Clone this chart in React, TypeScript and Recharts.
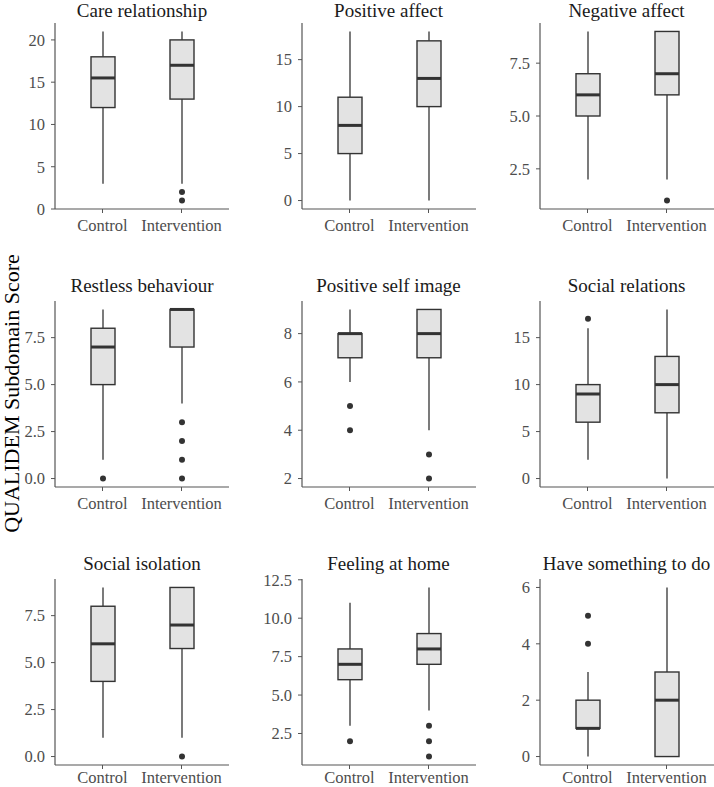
import React from "react";
import { BarChart, Bar, XAxis, YAxis } from "recharts";

const titles = [
  "Care relationship",
  "Positive affect",
  "Negative affect",
  "Restless behaviour",
  "Positive self image",
  "Social relations",
  "Social isolation",
  "Feeling at home",
  "Have something to do",
];

const groups = ["Control", "Intervention"];

// five-number summaries: [lower whisker, Q1, median, Q3, upper whisker]
const controlStats = [
  [3, 12, 15.5, 18, 21],
  [0, 5, 8, 11, 18],
  [2, 5, 6, 7, 9],
  [1, 5, 7, 8, 9],
  [6, 7, 8, 8, 9],
  [2, 6, 9, 10, 16],
  [1, 4, 6, 8, 9],
  [3, 6, 7, 8, 11],
  [0, 1, 1, 2, 3],
];

const interventionStats = [
  [3, 13, 17, 20, 21],
  [0, 10, 13, 17, 18],
  [2, 6, 7, 9, 9],
  [4, 7, 9, 9, 9],
  [4, 7, 8, 9, 9],
  [0, 7, 10, 13, 18],
  [1, 5.75, 7, 9, 9],
  [4, 7, 8, 9, 12],
  [0, 0, 2, 3, 6],
];

const controlOutliers = [[], [], [], [0], [4, 5], [17], [], [2], [4, 5]];
const interventionOutliers = [[1, 2], [], [1], [0, 1, 2, 3], [2, 3], [], [0], [1, 2, 3], []];

const yTickLabels = [
  ["0", "5", "10", "15", "20"],
  ["0", "5", "10", "15"],
  ["2.5", "5.0", "7.5"],
  ["0.0", "2.5", "5.0", "7.5"],
  ["2", "4", "6", "8"],
  ["0", "5", "10", "15"],
  ["0.0", "2.5", "5.0", "7.5"],
  ["2.5", "5.0", "7.5", "10.0", "12.5"],
  ["0", "2", "4", "6"],
];

const yAxisLabel = "QUALIDEM Subdomain Score";

// layout
const colAxisX = [55, 301.5, 539.5];
const rowTop = [23.3, 301.2, 579];
const titleGap = [6.5, 9.5, 9.5];
const PLOT_W = 174;
const PLOT_H = 186;
const Y_AXIS_W = 50;
const TOP_M = 10;
const X_AXIS_H = 34;

const FONT = "'Liberation Serif', 'Times New Roman', serif";
const BOX_FILL = "#e3e3e3";
const DARK = "#333333";
const AXIS = "#555555";
const TICK_TEXT = "#4d4d4d";

const BoxShape = (props: any) => {
  const { x, y, width, height, payload } = props;
  const [mn, q1, md, q3, mx] = payload.stats as number[];
  const top = Math.min(y, y + height);
  const h = Math.abs(height);
  const per = h / (mx - mn);
  const toY = (v: number) => top + (mx - v) * per;
  const cx = x + width / 2;
  return (
    <g>
      <line x1={cx} x2={cx} y1={toY(mx)} y2={toY(q3)} stroke={DARK} strokeWidth={1.3} />
      <line x1={cx} x2={cx} y1={toY(q1)} y2={toY(mn)} stroke={DARK} strokeWidth={1.3} />
      <rect
        x={x}
        y={toY(q3)}
        width={width}
        height={toY(q1) - toY(q3)}
        fill={BOX_FILL}
        stroke={DARK}
        strokeWidth={1.4}
      />
      <line x1={x} x2={x + width} y1={toY(md)} y2={toY(md)} stroke={DARK} strokeWidth={3} />
      {(payload.outliers as number[]).map((o, i) => (
        <circle key={i} cx={cx} cy={toY(o)} r={3} fill={DARK} />
      ))}
    </g>
  );
};

const Panel = ({ idx }: { idx: number }) => {
  const row = Math.floor(idx / 3);
  const col = idx % 3;
  const data = [
    { group: groups[0], stats: controlStats[idx], outliers: controlOutliers[idx] },
    { group: groups[1], stats: interventionStats[idx], outliers: interventionOutliers[idx] },
  ];
  const allVals = [
    ...controlStats[idx],
    ...interventionStats[idx],
    ...controlOutliers[idx],
    ...interventionOutliers[idx],
  ];
  const lo = Math.min(...allVals);
  const hi = Math.max(...allVals);
  const pad = (hi - lo) * 0.05;
  const labels = yTickLabels[idx];
  const ticks = labels.map((t) => parseFloat(t));
  const fmt = (v: number) => {
    const i = ticks.indexOf(v);
    return i >= 0 ? labels[i] : String(v);
  };
  const left = colAxisX[col] - Y_AXIS_W;
  const top = rowTop[row] - TOP_M;
  const width = Y_AXIS_W + PLOT_W;
  const height = TOP_M + PLOT_H + X_AXIS_H;
  const xTickMargin = row === 2 ? 2.5 : 6;
  return (
    <div style={{ position: "absolute", left, top, width, height }}>
      <BarChart
        width={width}
        height={height}
        data={data}
        margin={{ top: TOP_M, right: 0, bottom: 0, left: 0 }}
      >
        <XAxis
          dataKey="group"
          padding={{ left: 8, right: 8 }}
          height={X_AXIS_H}
          tickSize={4}
          tickMargin={xTickMargin}
          axisLine={{ stroke: AXIS, strokeWidth: 1.2 }}
          tickLine={{ stroke: AXIS }}
          tick={{ fontSize: 16.5, fill: TICK_TEXT, fontFamily: FONT }}
          interval={0}
        />
        <YAxis
          type="number"
          width={Y_AXIS_W}
          domain={[lo - pad, hi + pad]}
          allowDataOverflow
          ticks={ticks}
          tickFormatter={fmt}
          tickSize={4}
          tickMargin={6}
          axisLine={{ stroke: AXIS, strokeWidth: 1.2 }}
          tickLine={{ stroke: AXIS }}
          tick={{ fontSize: 16.5, fill: TICK_TEXT, fontFamily: FONT }}
          interval={0}
        />
        <Bar
          dataKey={(d: any) => [d.stats[0], d.stats[4]]}
          barSize={24}
          shape={BoxShape}
          isAnimationActive={false}
        />
      </BarChart>
    </div>
  );
};

export default function App() {
  return (
    <div
      style={{
        position: "absolute",
        left: 0,
        top: 0,
        width: 714,
        height: 787,
        overflow: "hidden",
        background: "#ffffff",
        fontFamily: FONT,
      }}
    >
      {titles.map((_, i) => (
        <Panel key={i} idx={i} />
      ))}
      <svg
        width={714}
        height={787}
        style={{ position: "absolute", left: 0, top: 0, pointerEvents: "none" }}
      >
        {titles.map((t, i) => {
          const row = Math.floor(i / 3);
          const col = i % 3;
          return (
            <text
              key={i}
              x={colAxisX[col] + PLOT_W / 2}
              y={rowTop[row] - titleGap[row]}
              textAnchor="middle"
              fontFamily={FONT}
              fontSize={19}
              fill="#1a1a1a"
            >
              {t}
            </text>
          );
        })}
        <text
          transform="translate(19, 393.5) rotate(-90)"
          textAnchor="middle"
          fontFamily={FONT}
          fontSize={22}
          fill="#000000"
        >
          {yAxisLabel}
        </text>
      </svg>
    </div>
  );
}
